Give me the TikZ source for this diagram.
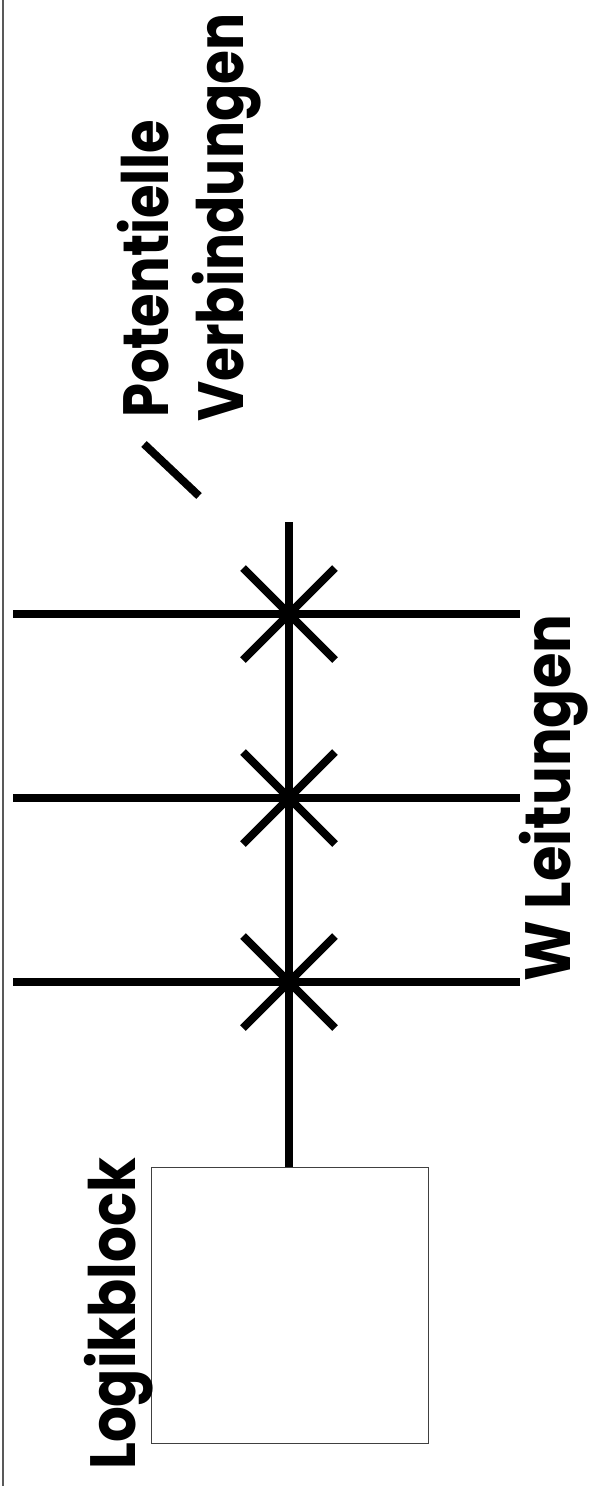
\documentclass[tikz,border=0pt]{standalone}
\usepackage{fontspec}
\usetikzlibrary{calc}
\newfontfamily\labelfont{Poppins}[BoldFont={Poppins Bold}]
\newcommand\narrowtext[2]{\scalebox{#1}[1]{#2}}
\begin{document}
\begin{tikzpicture}[x=1pt,y=-1pt,
  wire/.style={line width=7.5pt,line cap=butt},
  cross/.style={line width=8pt,line cap=butt},
  frameline/.style={line width=1.5pt,draw=black!65},
  blockbox/.style={draw=black!75,line width=1pt,minimum width=277pt,minimum height=276pt,inner sep=0pt,anchor=north west},
  lbl/.style={rotate=90,inner sep=0pt,anchor=base west,font=\labelfont\bfseries\fontsize{64}{64}\selectfont}
]
\useasboundingbox (0,0) rectangle (592,1486);
% left border
\coordinate (bt) at (3,0);
\coordinate (bb) at (3,1486);
\draw[frameline] (bt) -- (bb);
% logic block
\node[blockbox] (logik) at (151,1167) {};
% vertical wire
\coordinate (vtop) at (289,522);
\draw[wire] (logik.north -| vtop) -- (vtop);
% horizontal wires and crossings
\foreach \n/\y in {a/614,b/798,c/982}{
  \coordinate (\n L) at (13,\y);
  \coordinate (\n R) at (520,\y);
  \coordinate (\n X) at (289,\y);
  \draw[wire] (\n L) -- (\n R);
  \draw[cross] ($(\n X)+(-46,-46)$) -- ($(\n X)+(46,46)$);
  \draw[cross] ($(\n X)+(-46,46)$) -- ($(\n X)+(46,-46)$);
}
% legend slash
\coordinate (s1) at (144,444);
\coordinate (s2) at (199,496);
\draw[cross] (s1) -- (s2);
% labels
\node[lbl] (pot) at (168,418) {\narrowtext{0.85}{Potentielle}};
\node[lbl] (verb) at (243,422) {\narrowtext{0.86}{Verbindungen}};
\node[lbl] (wl) at (570,982) {\narrowtext{0.90}{W Leitungen}};
\node[lbl] (lb) at (135,1470) {\narrowtext{0.88}{Logikblock}};
\end{tikzpicture}
\end{document}
